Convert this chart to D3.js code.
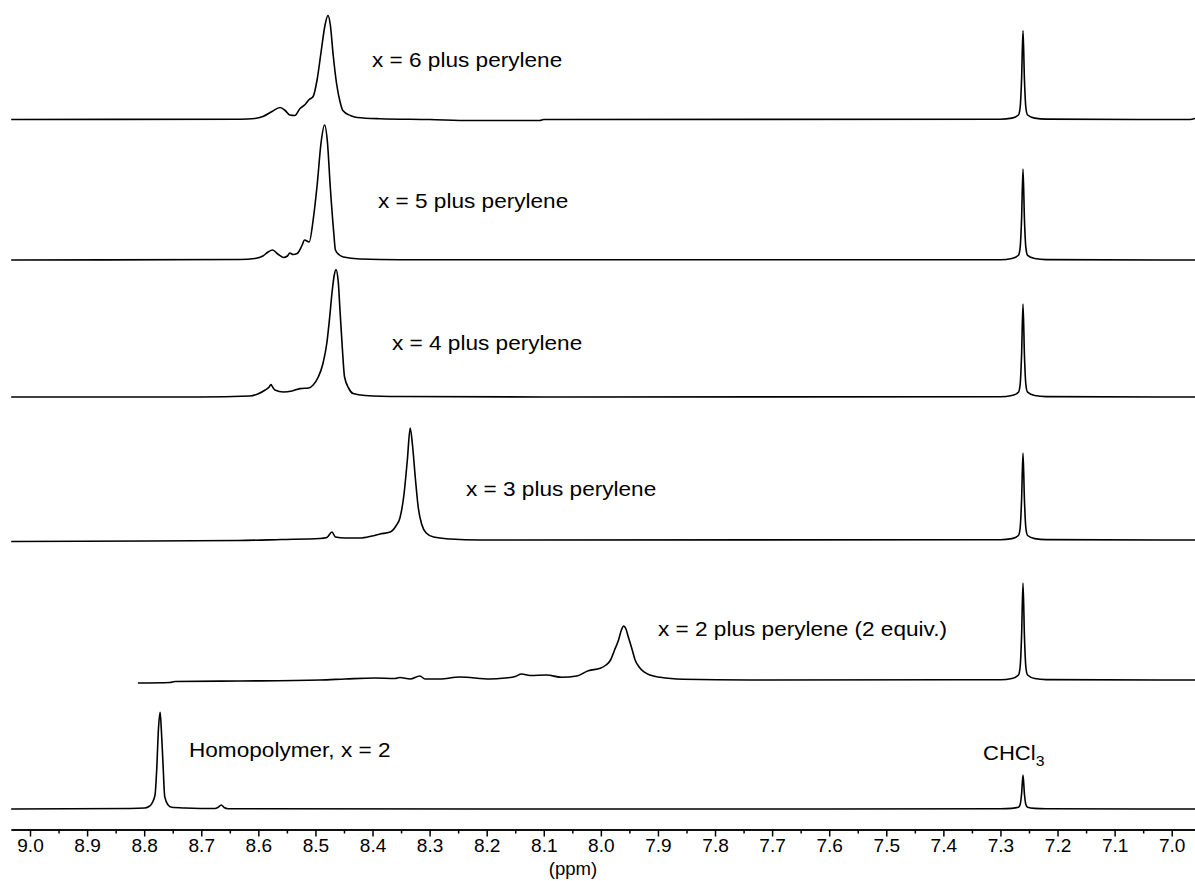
<!DOCTYPE html>
<meta charset="utf-8">
<style>

body { margin: 0; background: #fff; }

.trace {
  fill: none;
  stroke: #000;
  stroke-width: 1.6px;
  stroke-linejoin: round;
}

.axis path, .axis line {
  stroke: #000;
  stroke-width: 1.5px;
}

text {
  font-family: "Liberation Sans", Arial, Helvetica, sans-serif;
  fill: #000;
}

</style>
<body></body>
<script src="https://cdn.jsdelivr.net/npm/d3@7"></script>
<script>

// tick labels (ppm)
var majorTicks = [9.0, 8.9, 8.8, 8.7, 8.6, 8.5, 8.4, 8.3, 8.2, 8.1, 8.0,
                  7.9, 7.8, 7.7, 7.6, 7.5, 7.4, 7.3, 7.2, 7.1, 7.0];

// spectra: [ppm, intensity]
var homopolymer = [
  [9.033, 0], [8.825, 0.5], [8.799, 1], [8.793, 2], [8.786, 6], [8.781, 14],
  [8.778, 40], [8.775, 80], [8.772, 96.7], [8.770, 80], [8.767, 45], [8.764, 12.3],
  [8.758, 4], [8.752, 1.7], [8.728, 1], [8.676, 0.5], [8.671, 1.5], [8.665, 4],
  [8.660, 1.5], [8.653, 0.3], [8.2, 0], [7.6, 0], [7.30, 0.2], [7.28, 0.6],
  [7.2685, 1.7], [7.2655, 4.5], [7.263, 15], [7.2605, 34], [7.258, 15], [7.2555, 4.5],
  [7.2525, 1.7], [7.24, 0.6], [7.22, 0.2], [6.959, 0]
];

var x2Perylene = [
  [8.811, -3], [8.755, -2.5], [8.746, -1.5], [8.632, -1], [8.492, 0], [8.448, 1],
  [8.396, 2], [8.361, 1.5], [8.352, 2.5], [8.334, 1], [8.317, 4], [8.308, 1],
  [8.282, 1], [8.247, 3], [8.194, 1], [8.168, 2], [8.150, 3.5], [8.139, 6],
  [8.124, 4.5], [8.095, 5], [8.069, 2.7], [8.042, 4], [8.022, 9.3], [8.001, 11.7],
  [7.991, 15], [7.983, 20], [7.976, 30], [7.969, 40], [7.964, 50], [7.960, 54],
  [7.956, 51], [7.952, 43.3], [7.945, 30], [7.940, 20], [7.933, 13], [7.925, 8.3],
  [7.914, 5], [7.896, 2.7], [7.856, 0.7], [7.739, 0], [7.30, 0.3], [7.28, 1.5],
  [7.2685, 5], [7.2655, 13], [7.263, 44], [7.2605, 97], [7.258, 44], [7.2555, 13],
  [7.2525, 5], [7.24, 1.5], [7.22, 0.4], [6.959, 0]
];

var x3Perylene = [
  [9.033, -1.5], [8.790, -1], [8.636, -0.5], [8.560, 0.5], [8.492, 1.5], [8.480, 2.5],
  [8.471, 8], [8.465, 3], [8.448, 2], [8.422, 2], [8.401, 4], [8.387, 6],
  [8.369, 8], [8.359, 14], [8.352, 22], [8.345, 45], [8.339, 80], [8.334, 112],
  [8.330, 95], [8.325, 62], [8.320, 33], [8.314, 16], [8.306, 7], [8.293, 3],
  [8.264, 1], [8.212, 0], [7.30, 0.3], [7.28, 1.4], [7.2685, 4.5], [7.2655, 12],
  [7.263, 40], [7.2605, 87], [7.258, 40], [7.2555, 12], [7.2525, 4.5], [7.24, 1.4],
  [7.22, 0.4], [6.959, 0]
];

var x4Perylene = [
  [9.033, 0], [8.702, 0], [8.615, 1], [8.601, 3], [8.588, 7], [8.581, 10],
  [8.578, 12.4], [8.574, 9], [8.571, 7], [8.556, 5], [8.541, 6], [8.527, 8.4],
  [8.512, 9], [8.504, 12], [8.495, 20], [8.487, 33], [8.480, 54], [8.475, 80],
  [8.471, 104], [8.467, 122], [8.464, 127.4], [8.460, 115], [8.457, 87], [8.453, 50],
  [8.449, 20], [8.441, 8], [8.434, 3.4], [8.413, 1.5], [8.352, 0.5], [8.1, 0],
  [7.30, 0.3], [7.28, 1.5], [7.2685, 4.8], [7.2655, 12.5], [7.263, 42], [7.2605, 93],
  [7.258, 42], [7.2555, 12.5], [7.2525, 4.8], [7.24, 1.5], [7.22, 0.4], [6.959, 0]
];

var x5Perylene = [
  [9.033, 0], [8.632, 0.5], [8.606, 1.5], [8.592, 4], [8.583, 8], [8.575, 10],
  [8.566, 6], [8.556, 2.5], [8.549, 4], [8.545, 7], [8.539, 5.5], [8.532, 6.5],
  [8.524, 14], [8.519, 20], [8.511, 18], [8.504, 40], [8.497, 75], [8.490, 118],
  [8.484, 135], [8.479, 118], [8.474, 73], [8.468, 28], [8.465, 10], [8.458, 5],
  [8.451, 3], [8.422, 1], [8.352, 0.3], [7.30, 0.2], [7.28, 1.5], [7.2685, 4.7],
  [7.2655, 12.3], [7.263, 41], [7.2605, 91], [7.258, 41], [7.2555, 12.3], [7.2525, 4.7],
  [7.24, 1.5], [7.22, 0.4], [6.959, 0]
];

var x6Perylene = [
  [9.033, 0], [8.632, 0.3], [8.606, 1], [8.592, 3], [8.576, 8], [8.562, 12],
  [8.553, 9], [8.545, 4.5], [8.536, 4], [8.527, 11], [8.518, 15], [8.511, 20],
  [8.504, 23], [8.497, 40], [8.490, 68], [8.483, 95], [8.478, 104], [8.474, 95],
  [8.469, 65], [8.463, 36], [8.457, 18], [8.452, 9], [8.439, 4], [8.427, 2],
  [8.387, 0.8], [8.30, 0], [8.229, -1], [8.107, -1], [8.10, 0], [7.30, 0.3],
  [7.28, 1.4], [7.2685, 4.5], [7.2655, 12], [7.263, 40], [7.2605, 89], [7.258, 40],
  [7.2555, 12], [7.2525, 4.5], [7.24, 1.4], [7.22, 0.4], [6.968, 0], [6.959, 1]
];

var spectra = [x6Perylene, x5Perylene, x4Perylene, x3Perylene, x2Perylene, homopolymer];
var labels = ["x = 6 plus perylene", "x = 5 plus perylene", "x = 4 plus perylene",
              "x = 3 plus perylene", "x = 2 plus perylene (2 equiv.)", "Homopolymer, x = 2"];

var width = 1195,
    height = 881;

// layout: baseline of each trace, label anchor (x, text baseline)
var baselines = [119.5, 260, 397, 540, 680, 809];
var labelPos = [[372, 67], [378, 208], [392, 349.5], [466, 496], [658, 636], [189, 757]];
var axisY = 829.5;
var stretch = 1.13;

var svg = d3.select("body").append("svg")
    .attr("width", width)
    .attr("height", height);

var x = d3.scaleLinear()
    .domain([9.0333, 6.9592])
    .range([11, 1195]);

spectra.forEach(function(data, i) {
  var y = d3.scaleLinear()
      .domain([0, 100])
      .range([baselines[i], baselines[i] - 100]);

  var line = d3.line()
      .x(function(d) { return x(d[0]); })
      .y(function(d) { return y(d[1]); })
      .curve(d3.curveMonotoneX);

  svg.append("path")
      .datum(data)
      .attr("class", "trace")
      .attr("d", line);

  svg.append("text")
      .attr("transform", "translate(" + labelPos[i][0] + "," + labelPos[i][1] + ") scale(" + stretch + ",1)")
      .style("font-size", "20px")
      .text(labels[i]);
});

// CHCl3 label over the solvent peak
var chcl3 = svg.append("text")
    .attr("transform", "translate(" + (x(7.2605) - 40) + ",760) scale(" + stretch + ",1)")
    .style("font-size", "19.5px");
chcl3.append("tspan").text("CHCl");
chcl3.append("tspan").attr("dy", 6).style("font-size", "14px").text("3");

// minor ticks
var minorTicks = majorTicks.slice(1).map(function(d) { return d + 0.05; });

svg.append("g")
    .attr("class", "axis")
    .attr("transform", "translate(0," + axisY + ")")
    .call(d3.axisBottom(x).tickValues(minorTicks).tickSize(4).tickSizeOuter(0).tickFormat(""));

var axis = svg.append("g")
    .attr("class", "axis")
    .attr("transform", "translate(0," + axisY + ")")
    .call(d3.axisBottom(x).tickValues(majorTicks).tickSize(7).tickSizeOuter(0)
      .tickFormat(d3.format(".1f")));

axis.selectAll("text")
    .style("font-size", "18px")
    .style("font-family", "'Liberation Sans', Arial, Helvetica, sans-serif")
    .attr("transform", "scale(1.06,1)");

svg.append("text")
    .attr("transform", "translate(573,875) scale(1.06,1)")
    .attr("text-anchor", "middle")
    .style("font-size", "17.5px")
    .text("(ppm)");

</script>
